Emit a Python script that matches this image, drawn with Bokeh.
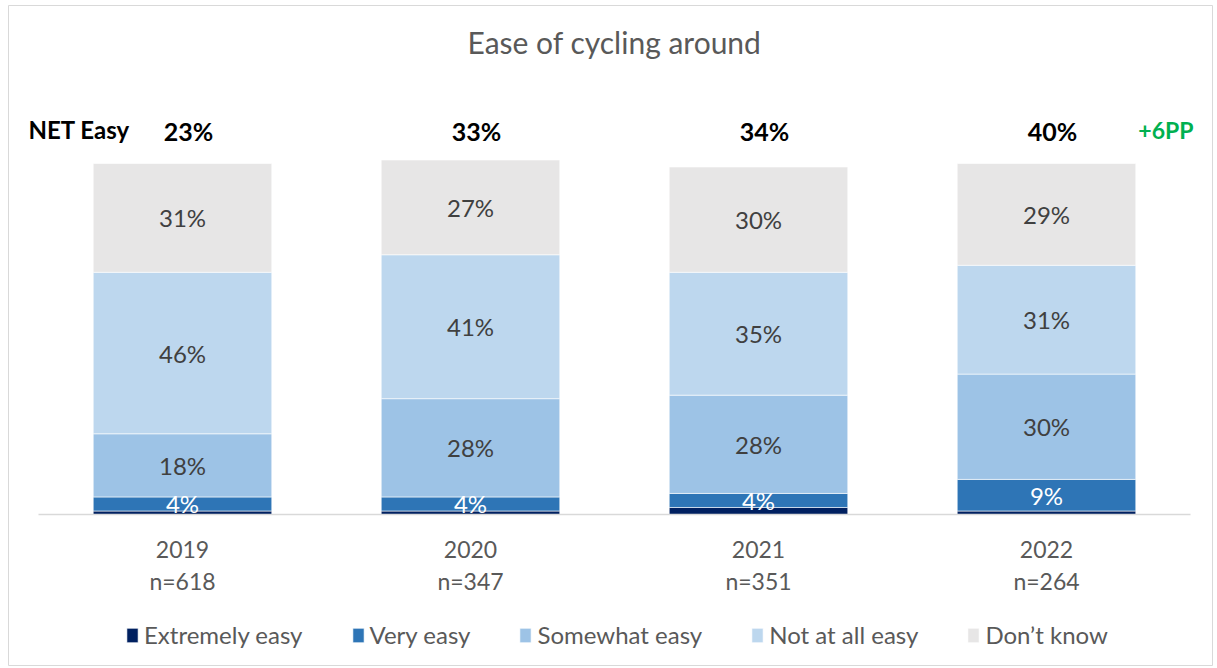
from bokeh.plotting import figure
from bokeh.models import ColumnDataSource, Range1d, Legend, LegendItem
from bokeh.core.properties import value
from bokeh.embed import file_html
from bokeh.resources import INLINE

# ---- data ----
years = ["2019", "2020", "2021", "2022"]
sample_n = ["n=618", "n=347", "n=351", "n=264"]
series_names = ["Extremely easy", "Very easy", "Somewhat easy", "Not at all easy", "Don\u2019t know"]
extremely_easy = [1, 1, 2, 1]
very_easy = [4, 4, 4, 9]
somewhat_easy = [18, 28, 28, 30]
not_at_all_easy = [46, 41, 35, 31]
dont_know = [31, 27, 30, 29]
net_easy = [23, 33, 34, 40]
net_change = "+6PP"
title_text = "Ease of cycling around"

colors = ["#002060", "#2E75B6", "#9DC3E6", "#BDD7EE", "#E7E6E6"]
label_colors = [None, "#FFFFFF", "#404040", "#404040", "#404040"]
FONT = "Lato"
GRAY = "#595959"

# ---- layout ----
W, H = 1217, 668
PX_PER_UNIT_Y = 3.51
BASE_PX = 514
FIRST_PX = 182
STEP_PX = 288
FR_L, FR_R, FR_T, FR_B = 8, 1212, 5, 665

x_start = (FR_L - FIRST_PX) / STEP_PX
x_end = (FR_R - FIRST_PX) / STEP_PX
y_start = -(FR_B - BASE_PX) / PX_PER_UNIT_Y
y_end = (BASE_PX - FR_T) / PX_PER_UNIT_Y


def y_of(px):
    return (BASE_PX - px) / PX_PER_UNIT_Y


p = figure(width=W, height=H, output_backend="svg", toolbar_location=None,
           x_range=Range1d(x_start, x_end), y_range=Range1d(y_start, y_end),
           min_border_left=FR_L, min_border_right=W - FR_R,
           min_border_top=FR_T, min_border_bottom=H - FR_B)
p.axis.visible = False
p.grid.visible = False
p.outline_line_color = "#D9D9D9"
p.outline_line_width = 1
p.background_fill_color = "white"
p.border_fill_color = "white"

xs = list(range(len(years)))
keys = ["ee", "ve", "se", "ne", "dk"]
vals = [extremely_easy, very_easy, somewhat_easy, not_at_all_easy, dont_know]
src = ColumnDataSource(dict(x=xs, **{k: v for k, v in zip(keys, vals)}))
renderers = p.vbar_stack(keys, x="x", width=0.62, color=colors, source=src,
                         line_color="white", line_width=0.6)

# segment labels
lx, ly, lt, lc = [], [], [], []
for i in range(len(years)):
    bottom = 0
    for s, series in enumerate(vals):
        v = series[i]
        if label_colors[s] is not None:
            lx.append(xs[i]); ly.append(bottom + v / 2); lt.append(f"{v}%"); lc.append(label_colors[s])
        bottom += v
p.text(x="x", y="y", text="t", text_color="c", source=ColumnDataSource(dict(x=lx, y=ly, t=lt, c=lc)),
       text_align="center", text_baseline="middle", text_font=value(FONT), text_font_size="24px")

# baseline axis line across category bands
p.segment(x0=[xs[0] - 0.5], y0=[0], x1=[xs[-1] + 0.5], y1=[0], line_color="#D9D9D9", line_width=1.5)

# category tick labels
p.text(x=xs, y=[y_of(549)] * len(xs), text=years, text_align="center", text_baseline="middle",
       text_font=value(FONT), text_font_size="23px", text_color=GRAY)
p.text(x=xs, y=[y_of(580)] * len(xs), text=sample_n, text_align="center", text_baseline="middle",
       text_font=value(FONT), text_font_size="23px", text_color=GRAY)

# NET labels
p.text(x=xs, y=[y_of(130)] * len(xs), text=[f"{v}%" for v in net_easy], text_align="center",
       text_baseline="middle", text_font=value(FONT), text_font_size="25px", text_font_style="bold",
       text_color="black", x_offset=6)
p.text(x=[xs[0] - 0.5], y=[y_of(129)], text=["NET Easy"], text_align="left", text_baseline="middle",
       text_font=value(FONT), text_font_size="24px", text_font_style="bold", text_color="black", x_offset=-10)
p.text(x=[xs[-1] + 0.5], y=[y_of(129)], text=[net_change], text_align="right", text_baseline="middle",
       text_font=value(FONT), text_font_size="23px", text_font_style="bold", text_color="#00B050", x_offset=3)

# title
p.text(x=[(xs[0] + xs[-1]) / 2], y=[y_of(41)], text=[title_text], text_align="center", text_baseline="middle",
       text_font=value(FONT), text_font_size="30px", text_color=GRAY)

legend = Legend(items=[LegendItem(label=n, renderers=[r]) for n, r in zip(series_names, renderers)],
                orientation="horizontal", location=(117, 16), label_text_font=FONT,
                label_text_font_size="24px", label_text_color=GRAY, glyph_width=14, glyph_height=18,
                label_standoff=5, spacing=48, padding=0, margin=0, border_line_color=None,
                background_fill_alpha=0)
p.add_layout(legend)

open("out.html", "w").write(file_html(p, INLINE))
